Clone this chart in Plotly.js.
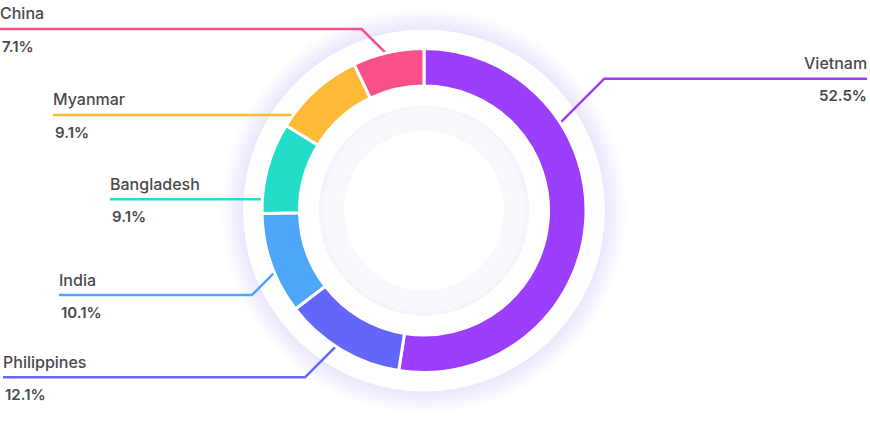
<!DOCTYPE html>
<html>
<head>
<meta charset="utf-8">
<script src="https://cdn.plot.ly/plotly-3.0.1.min.js"></script>
<style>html,body{margin:0;padding:0;background:#fff;}#chart{width:870px;height:422px;}</style>
</head>
<body>
<div id="chart"></div>
<script>
// ---- data ----
const labels = ['Vietnam', 'Philippines', 'India', 'Bangladesh', 'Myanmar', 'China'];
const values = [52.5, 12.1, 10.1, 9.1, 9.1, 7.1];
const colors = ['#9C3FFD', '#6366FB', '#4EA6F9', '#23DDC9', '#FDBA37', '#F9508A'];

// ---- layout constants (pixels) ----
const W = 870, H = 422;
const CX = 424, CY = 210.5;     // donut centre
const R_OUT = 160.5;            // visible outer radius of ring
const R_IN = 126;               // visible inner radius of ring
const BORDER = 3;               // white gap between slices
const R_DISC = 181;             // white backing disc
const R_HOLE = 105;             // inset hole

// label placement: text x, line y, elbow x (null = straight), direction of diagonal, alignment
const labelPos = {
  'China':       {tx: 0,   ly: 29,    elbow: 361.7, dir: [1, 1],  align: 'left'},
  'Myanmar':     {tx: 53,  ly: 115,   elbow: null,  dir: [1, 0],  align: 'left'},
  'Bangladesh':  {tx: 110, ly: 199.3, elbow: null,  dir: [1, 0],  align: 'left'},
  'India':       {tx: 59,  ly: 295,   elbow: 252,   dir: [1, -1], align: 'left'},
  'Philippines': {tx: 3,   ly: 377.3, elbow: 305,   dir: [1, -1], align: 'left'},
  'Vietnam':     {tx: 867, ly: 78.7,  elbow: 604.3, dir: [-1, 1], align: 'right'}
};

const px = x => x / W;
const py = y => 1 - y / H;

function circle(r, fill) {
  return {type: 'circle', xref: 'paper', yref: 'paper', layer: 'below',
    x0: px(CX - r), x1: px(CX + r), y0: py(CY + r), y1: py(CY - r),
    fillcolor: fill, line: {width: 0}};
}

const shapes = [];
// outer soft shadow
for (let k = 22; k >= 1; k--) shapes.push(circle(R_DISC + k, 'rgba(205,205,240,0.011)'));
shapes.push(circle(R_DISC, '#ffffff'));
// inset hole shadow
shapes.push(circle(R_HOLE, 'rgb(243,243,252)'));
for (let k = 1; k <= 24; k++) shapes.push(circle(R_HOLE - k, 'rgba(255,255,255,0.11)'));
shapes.push(circle(R_HOLE - 25, '#ffffff'));

// leader lines: horizontal segment from label, then ray to ring
function rayToRing(P, d, R) {
  const n = Math.hypot(d[0], d[1]);
  const dx = d[0] / n, dy = d[1] / n;
  const fx = P[0] - CX, fy = P[1] - CY;
  const b = fx * dx + fy * dy;
  const c = fx * fx + fy * fy - R * R;
  const t = -b - Math.sqrt(Math.max(0, b * b - c));
  return [P[0] + t * dx, P[1] + t * dy];
}

const annotations = [];
const textColor = '#4a4a4a';
labels.forEach((name, i) => {
  const L = labelPos[name];
  const pts = [];
  if (L.elbow === null) {
    pts.push([L.tx, L.ly]);
    pts.push(rayToRing([L.tx, L.ly], L.dir, R_OUT - 1));
  } else {
    pts.push([L.tx, L.ly]);
    pts.push([L.elbow, L.ly]);
    pts.push(rayToRing([L.elbow, L.ly], L.dir, R_OUT - 1));
  }
  const path = pts.map((p, j) => (j ? 'L' : 'M') + px(p[0]) + ',' + py(p[1])).join(' ');
  shapes.push({type: 'path', xref: 'paper', yref: 'paper', layer: 'below', path: path,
    line: {color: colors[i], width: 2.5}});

  const common = {xref: 'paper', yref: 'paper', showarrow: false, xanchor: L.align,
    yanchor: 'middle', borderpad: 0, borderwidth: 0};
  annotations.push(Object.assign({}, common, {
    x: px(L.tx), y: py(L.ly - 15.5), text: name,
    font: {family: 'Inter, "Open Sans", sans-serif', size: 16, color: textColor, weight: 500}
  }));
  annotations.push(Object.assign({}, common, {
    x: px(L.tx + (L.align === 'left' ? 2 : 0)), y: py(L.ly + 17), text: values[i].toFixed(1) + '%',
    font: {family: 'Inter, "Open Sans", sans-serif', size: 15, color: textColor, weight: 600}
  }));
});

const Rp = R_OUT + BORDER / 2;
const trace = {
  type: 'pie',
  labels: labels,
  values: values,
  sort: false,
  direction: 'clockwise',
  rotation: 0,
  hole: (R_IN - BORDER / 2) / Rp,
  textinfo: 'none',
  hoverinfo: 'label+percent',
  marker: {colors: colors, line: {color: '#ffffff', width: BORDER}},
  domain: {x: [px(CX - Rp), px(CX + Rp)], y: [py(CY + Rp), py(CY - Rp)]}
};

const layout = {
  width: W, height: H,
  margin: {l: 0, r: 0, t: 0, b: 0},
  paper_bgcolor: '#ffffff',
  showlegend: false,
  shapes: shapes,
  annotations: annotations
};

Plotly.newPlot('chart', [trace], layout, {displayModeBar: false, staticPlot: true});
</script>
</body>
</html>
